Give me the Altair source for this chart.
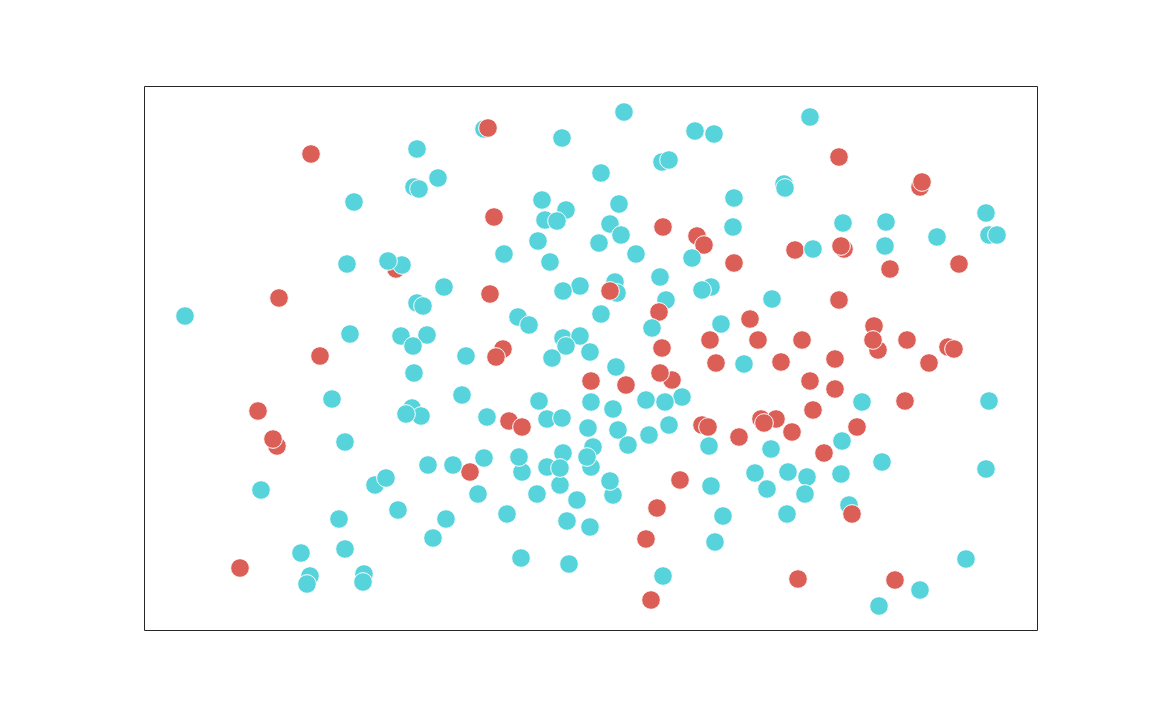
import altair as alt
import pandas as pd

x_vals = [
    33.9, 34.3, 47.9, 66.5, 55.0, 56.9, 41.7, 27.2, 16.6, 69.4,
    51.7, 52.4, 45.6, 29.3, 63.9, 64.0, 77.5, 77.7, 26.9, 27.4,
    58.9, 20.9, 39.7, 47.4, 42.1, 84.1, 34.9, 40.0, 41.2, 69.8,
    74.1, 46.5, 51.8, 58.8, 47.6, 84.4, 85.2, 55.2, 55.9, 79.2,
    39.3, 45.4, 65.0, 66.8, 69.9, 69.6, 74.0, 35.9, 49.1, 54.7,
    40.5, 20.2, 25.1, 25.7, 24.3, 58.9, 74.5, 81.4, 51.5, 43.5,
    47.0, 47.2, 46.5, 41.8, 29.9, 56.6, 55.7, 34.5, 13.4, 62.7,
    69.4, 52.1, 27.2, 27.8, 51.4, 45.6, 4.0, 37.3, 38.4, 60.5,
    57.6, 72.9, 73.3, 72.8, 50.7, 20.5, 25.6, 28.2, 26.8, 41.8,
    43.5, 42.1, 56.5, 61.3, 65.7, 76.2, 80.3, 80.9, 51.7, 44.5,
    35.8, 35.1, 32.1, 40.7, 17.5, 47.1, 57.1, 59.9, 63.6, 69.0,
    78.4, 26.9, 52.7, 51.5, 44.6, 48.1, 66.5, 69.0, 31.7, 18.7,
    39.4, 44.6, 46.8, 53.7, 50.1, 52.0, 71.7, 76.0, 84.4, 11.3,
    66.8, 26.7, 27.6, 26.1, 34.2, 36.4, 37.7, 40.2, 41.7, 55.7,
    56.3, 61.6, 63.1, 61.9, 44.3, 47.3, 50.4, 52.4, 59.4, 64.7,
    71.2, 13.2, 12.8, 20.0, 48.3, 56.4, 62.6, 69.7, 44.8, 44.6,
    44.2, 67.9, 41.8, 40.2, 41.5, 41.5, 37.7, 37.4, 33.9, 32.5,
    30.8, 28.3, 73.7, 84.1, 61.0, 64.3, 66.2, 69.6, 23.0, 24.1,
    46.8, 46.5, 53.5, 56.6, 11.6, 62.2, 33.3, 39.2, 66.0, 43.2,
    70.4, 70.7, 51.2, 25.3, 36.2, 64.2, 19.4, 30.1, 42.2, 57.8,
    44.5, 28.8, 50.1, 57.0, 20.0, 15.6, 37.6, 42.4, 82.1, 9.5,
    16.5, 16.2, 21.9, 21.8, 51.8, 65.3, 75.0, 77.5, 50.6, 73.4,
]

y_vals = [
    50.2, 50.3, 51.9, 51.4, 50.0, 49.7, 49.3, 48.2, 47.7, 47.4,
    46.9, 47.1, 45.8, 45.3, 44.7, 44.3, 44.4, 44.9, 44.4, 44.2,
    43.3, 42.9, 43.1, 42.7, 42.1, 41.8, 41.4, 41.1, 41.0, 40.8,
    40.9, 40.7, 40.4, 40.4, 39.6, 39.6, 39.6, 39.5, 38.6, 39.4,
    39.0, 38.8, 38.1, 38.2, 38.2, 38.5, 38.5, 37.7, 37.7, 37.3,
    36.9, 36.7, 36.2, 36.6, 37.0, 36.8, 36.2, 36.7, 35.4, 34.5,
    34.9, 33.8, 34.0, 34.0, 34.4, 34.4, 34.1, 33.7, 33.3, 33.2,
    33.1, 33.1, 32.8, 32.5, 31.9, 31.7, 31.5, 31.4, 30.6, 31.2,
    30.7, 30.5, 28.1, 29.1, 30.3, 29.7, 29.5, 29.6, 28.5, 29.3,
    29.5, 28.5, 29.1, 29.1, 29.1, 29.1, 28.4, 28.2, 28.3, 27.9,
    28.2, 27.4, 27.5, 27.3, 27.5, 26.4, 26.8, 26.7, 26.9, 27.2,
    26.8, 25.8, 25.1, 25.8, 25.0, 24.6, 25.0, 24.2, 23.6, 23.2,
    23.0, 22.9, 22.2, 23.4, 23.1, 22.9, 22.9, 23.0, 23.0, 22.0,
    22.1, 22.3, 21.5, 21.7, 21.4, 21.0, 20.4, 21.2, 21.3, 20.6,
    20.4, 21.2, 21.2, 20.8, 20.3, 20.1, 19.6, 20.6, 19.4, 19.9,
    20.4, 18.5, 19.2, 18.9, 18.6, 18.5, 18.2, 19.0, 18.4, 16.4,
    17.4, 17.8, 17.8, 16.4, 14.6, 16.3, 15.9, 17.4, 17.3, 15.9,
    16.6, 16.6, 16.9, 16.2, 15.8, 15.9, 15.4, 15.7, 14.6, 15.3,
    13.6, 15.0, 15.1, 14.5, 14.1, 14.2, 13.7, 13.7, 13.7, 13.1,
    12.6, 11.7, 12.3, 12.1, 11.7, 11.7, 11.2, 11.2, 11.0, 11.5,
    10.4, 9.3, 9.2, 8.9, 8.2, 7.8, 7.3, 6.7, 7.2, 6.3,
    5.5, 4.7, 5.7, 4.9, 5.5, 5.2, 5.1, 4.1, 3.1, 2.5,
]

groups = [
    "B", "A", "B", "B", "B", "B", "B", "B", "A", "A",
    "B", "B", "B", "B", "B", "B", "A", "A", "B", "B",
    "B", "B", "B", "B", "B", "B", "A", "B", "B", "B",
    "B", "B", "A", "B", "B", "B", "B", "A", "A", "B",
    "B", "B", "A", "B", "A", "A", "B", "B", "B", "B",
    "B", "B", "A", "B", "B", "A", "A", "A", "B", "B",
    "B", "B", "A", "B", "B", "B", "B", "A", "A", "B",
    "A", "B", "B", "B", "A", "B", "B", "B", "B", "A",
    "B", "A", "A", "A", "B", "B", "B", "B", "B", "B",
    "B", "B", "A", "A", "A", "A", "A", "A", "A", "B",
    "A", "A", "B", "B", "A", "B", "A", "B", "A", "A",
    "A", "B", "A", "A", "A", "A", "A", "A", "B", "B",
    "B", "B", "B", "B", "B", "B", "B", "A", "B", "A",
    "A", "B", "B", "B", "B", "A", "A", "B", "B", "A",
    "A", "A", "A", "A", "B", "B", "B", "B", "A", "A",
    "A", "A", "A", "B", "B", "B", "B", "B", "B", "B",
    "B", "A", "B", "B", "B", "B", "B", "B", "B", "A",
    "B", "B", "B", "B", "B", "B", "B", "B", "B", "B",
    "B", "B", "A", "B", "B", "B", "B", "B", "B", "B",
    "B", "A", "A", "B", "B", "B", "B", "B", "B", "B",
    "B", "B", "A", "B", "B", "B", "B", "B", "B", "A",
    "B", "B", "B", "B", "B", "A", "A", "B", "A", "B",
]

series_names = ["A", "B"]
series_colors = ["#db5f57", "#57d3db"]

df = pd.DataFrame({"x": x_vals, "y": y_vals, "group": groups})
df["idx"] = range(len(df))

chart = (
    alt.Chart(df)
    .mark_circle(size=350, opacity=1, stroke="white", strokeWidth=1)
    .encode(
        x=alt.X("x:Q", axis=None, scale=alt.Scale(domain=[-0.1, 89.2], nice=False, zero=False)),
        y=alt.Y("y:Q", axis=None, scale=alt.Scale(domain=[0.1, 54.5], nice=False, zero=False)),
        color=alt.Color("group:N", legend=None,
                        scale=alt.Scale(domain=series_names, range=series_colors)),
        order=alt.Order("idx:Q"),
    )
    .properties(
        width=893,
        height=544,
        autosize=alt.AutoSizeParams(type="none"),
        padding={"left": 136, "top": 78, "right": 107, "bottom": 82},
    )
    .configure_view(stroke="#262626", strokeWidth=1)
)

chart.save("out.html", embed_options={"renderer": "svg", "actions": False})
